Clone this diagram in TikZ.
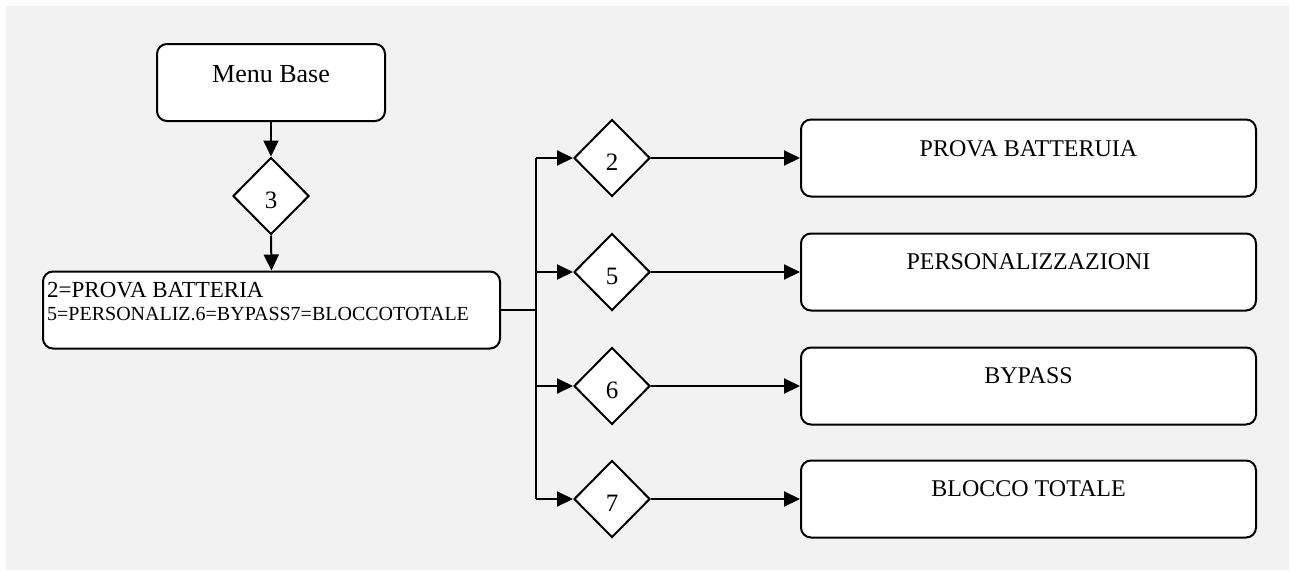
\documentclass[tikz,border=0pt]{standalone}
\usepackage{fontspec}
\setmainfont{Liberation Serif}
\usetikzlibrary{shapes.geometric,arrows.meta}
\definecolor{bggray}{HTML}{F2F2F2}
\tikzset{
  box/.style={draw=black, fill=white, rounded corners=10pt, line width=2pt, minimum width=#1, minimum height=77pt, inner sep=0pt},
  dia/.style={draw=black, fill=white, diamond, line width=2pt, minimum width=76pt, minimum height=77pt, inner sep=0pt, text height=25pt, text depth=0.1pt, font=\fontsize{25}{28}\selectfont},
  txt/.style={inner sep=0pt, font=\fontsize{24}{28}\selectfont},
  arr/.style={line width=2pt, -{Triangle[length=16pt,width=15pt]}},
  ln/.style={line width=2pt}
}
\begin{document}
\begin{tikzpicture}[x=1pt,y=-1pt]
\useasboundingbox (0,0) rectangle (1289,570);
\fill[white] (0,0) rectangle (1289,570);
\fill[bggray] (6,6) rectangle (1289,570);

% left column
\node[box=228pt] (menu) at (271,82.5) {};
\node[txt, anchor=base, font=\fontsize{26}{30}\selectfont] (menut) at (271,82) {Menu Base};
\node[dia] (d3) at (271,196) {3};
\node[box=457pt] (big) at (271.5,310) {};
\node[txt, anchor=base west, font=\fontsize{23}{26}\selectfont] (bigt1) at (47,297) {2=PROVA BATTERIA};
\node[txt, anchor=base west, font=\fontsize{20}{24}\selectfont] (bigt2) at (47,320) {5=PERSONALIZ.6=BYPASS7=BLOCCOTOTALE};

% diamonds
\node[dia] (d2) at (612,158) {2};
\node[dia] (d5) at (612,272) {5};
\node[dia] (d6) at (612,386) {6};
\node[dia] (d7) at (612,499) {7};

% right boxes
\node[box=455pt] (b2) at (1028.5,158) {};
\node[box=455pt] (b5) at (1028.5,272) {};
\node[box=455pt] (b6) at (1028.5,386) {};
\node[box=455pt] (b7) at (1028.5,499) {};
\node[txt, anchor=base] (b2t) at (1028.5,156) {PROVA BATTERUIA};
\node[txt, anchor=base] (b5t) at (1028.5,269) {PERSONALIZZAZIONI};
\node[txt, anchor=base] (b6t) at (1028.5,383) {BYPASS};
\node[txt, anchor=base] (b7t) at (1028.5,496) {BLOCCO TOTALE};

% junctions
\coordinate (j2) at (536,158);
\coordinate (j5) at (536,272);
\coordinate (j6) at (536,386);
\coordinate (j7) at (536,499);
\coordinate (jb) at (536,310);

% connectors
\draw[arr] (menu.south) -- (d3.north);
\draw[arr] (d3.south) -- (big.north);
\draw[ln] (big.east) -- (jb);
\draw[ln] (j2) -- (j7);
\draw[arr] (j2) -- (d2.west);
\draw[arr] (j5) -- (d5.west);
\draw[arr] (j6) -- (d6.west);
\draw[arr] (j7) -- (d7.west);
\draw[arr] (d2.east) -- (b2.west);
\draw[arr] (d5.east) -- (b5.west);
\draw[arr] (d6.east) -- (b6.west);
\draw[arr] (d7.east) -- (b7.west);
\end{tikzpicture}
\end{document}
